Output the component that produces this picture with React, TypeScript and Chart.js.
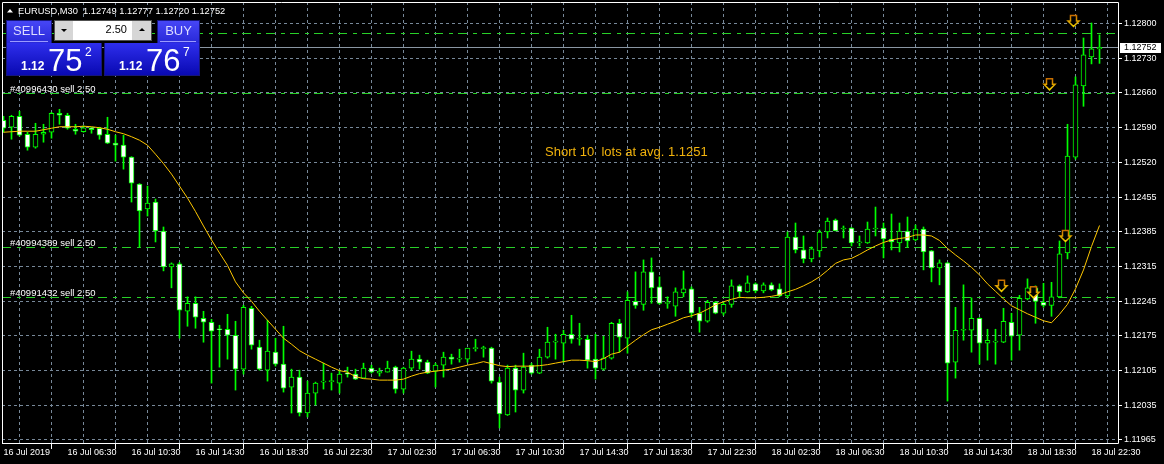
import React, { useEffect, useRef } from "react";
import { Chart, registerables } from "chart.js";

Chart.register(...registerables);

const headerText = "EURUSD,M30  1.12749 1.12777 1.12720 1.12752";

const xTickLabels = [
  "16 Jul 2019", "16 Jul 06:30", "16 Jul 10:30", "16 Jul 14:30", "16 Jul 18:30", "16 Jul 22:30",
  "17 Jul 02:30", "17 Jul 06:30", "17 Jul 10:30", "17 Jul 14:30", "17 Jul 18:30", "17 Jul 22:30",
  "18 Jul 02:30", "18 Jul 06:30", "18 Jul 10:30", "18 Jul 14:30", "18 Jul 18:30", "18 Jul 22:30",
];

const yTickLabels = [
  "1.12800", "1.12730", "1.12660", "1.12590", "1.12520", "1.12455", "1.12385",
  "1.12315", "1.12245", "1.12175", "1.12105", "1.12035", "1.11965",
];

const opens = [
  1.12606, 1.12592, 1.12614, 1.12578, 1.12552, 1.12578, 1.12582, 1.12620, 1.12616, 1.12588,
  1.12583, 1.12591, 1.12590, 1.12578, 1.12560, 1.12556, 1.12532, 1.12478, 1.12428, 1.12442,
  1.12384, 1.12312, 1.12318, 1.12223, 1.12239, 1.12209, 1.12201, 1.12187, 1.12187, 1.12175,
  1.12107, 1.12229, 1.12151, 1.12105, 1.12141, 1.12117, 1.12071, 1.12091, 1.12019, 1.12059,
  1.12081, 1.12082, 1.12079, 1.12098, 1.12097, 1.12089, 1.12109, 1.12099, 1.12101, 1.12111,
  1.12067, 1.12109, 1.12127, 1.12121, 1.12103, 1.12115, 1.12131, 1.12127, 1.12127, 1.12148,
  1.12148, 1.12149, 1.12081, 1.12015, 1.12109, 1.12065, 1.12115, 1.12099, 1.12131, 1.12161,
  1.12159, 1.12177, 1.12167, 1.12167, 1.12127, 1.12107, 1.12129, 1.12199, 1.12169, 1.12243,
  1.12237, 1.12302, 1.12272, 1.12239, 1.12233, 1.12260, 1.12268, 1.12219, 1.12203, 1.12241,
  1.12219, 1.12237, 1.12274, 1.12262, 1.12278, 1.12264, 1.12276, 1.12268, 1.12254, 1.12372,
  1.12346, 1.12328, 1.12344, 1.12382, 1.12406, 1.12388, 1.12390, 1.12360, 1.12360, 1.12388,
  1.12390, 1.12368, 1.12360, 1.12384, 1.12366, 1.12388, 1.12344, 1.12310, 1.12320, 1.12121,
  1.12185, 1.12185, 1.12209, 1.12159, 1.12161, 1.12161, 1.12201, 1.12175, 1.12248, 1.12270,
  1.12241, 1.12235, 1.12252, 1.12340, 1.12532, 1.12675, 1.12733, 1.12749,
];

const highs = [
  1.12614, 1.12616, 1.12624, 1.12582, 1.12600, 1.12598, 1.12622, 1.12628, 1.12620, 1.12598,
  1.12595, 1.12592, 1.12592, 1.12612, 1.12576, 1.12576, 1.12533, 1.12479, 1.12474, 1.12448,
  1.12392, 1.12320, 1.12321, 1.12252, 1.12252, 1.12223, 1.12207, 1.12195, 1.12217, 1.12203,
  1.12235, 1.12233, 1.12165, 1.12205, 1.12169, 1.12193, 1.12107, 1.12105, 1.12083, 1.12081,
  1.12119, 1.12099, 1.12105, 1.12111, 1.12107, 1.12119, 1.12115, 1.12109, 1.12123, 1.12113,
  1.12111, 1.12143, 1.12135, 1.12125, 1.12119, 1.12141, 1.12137, 1.12147, 1.12149, 1.12167,
  1.12153, 1.12151, 1.12091, 1.12115, 1.12115, 1.12139, 1.12119, 1.12147, 1.12191, 1.12177,
  1.12185, 1.12215, 1.12199, 1.12175, 1.12177, 1.12173, 1.12201, 1.12207, 1.12262, 1.12302,
  1.12326, 1.12330, 1.12292, 1.12252, 1.12270, 1.12304, 1.12272, 1.12231, 1.12245, 1.12243,
  1.12241, 1.12286, 1.12276, 1.12294, 1.12280, 1.12280, 1.12280, 1.12278, 1.12382, 1.12400,
  1.12374, 1.12352, 1.12386, 1.12410, 1.12408, 1.12394, 1.12391, 1.12374, 1.12402, 1.12432,
  1.12400, 1.12418, 1.12400, 1.12412, 1.12396, 1.12392, 1.12345, 1.12326, 1.12321, 1.12231,
  1.12276, 1.12250, 1.12210, 1.12187, 1.12187, 1.12229, 1.12219, 1.12255, 1.12288, 1.12274,
  1.12279, 1.12281, 1.12364, 1.12598, 1.12693, 1.12771, 1.12801, 1.12777,
];

const lows = [
  1.12582, 1.12568, 1.12574, 1.12546, 1.12550, 1.12562, 1.12570, 1.12598, 1.12588, 1.12578,
  1.12582, 1.12580, 1.12568, 1.12559, 1.12524, 1.12508, 1.12442, 1.12352, 1.12414, 1.12362,
  1.12304, 1.12270, 1.12169, 1.12193, 1.12189, 1.12161, 1.12079, 1.12111, 1.12127, 1.12065,
  1.12097, 1.12147, 1.12105, 1.12083, 1.12113, 1.12061, 1.12019, 1.12013, 1.12011, 1.12035,
  1.12067, 1.12065, 1.12059, 1.12091, 1.12086, 1.12089, 1.12099, 1.12093, 1.12101, 1.12059,
  1.12059, 1.12105, 1.12107, 1.12098, 1.12071, 1.12091, 1.12117, 1.12121, 1.12121, 1.12143,
  1.12131, 1.12079, 1.11989, 1.12014, 1.12021, 1.12059, 1.12097, 1.12098, 1.12129, 1.12127,
  1.12121, 1.12159, 1.12155, 1.12109, 1.12087, 1.12105, 1.12127, 1.12141, 1.12139, 1.12229,
  1.12225, 1.12239, 1.12237, 1.12229, 1.12213, 1.12252, 1.12211, 1.12181, 1.12201, 1.12218,
  1.12215, 1.12231, 1.12250, 1.12261, 1.12260, 1.12260, 1.12264, 1.12252, 1.12252, 1.12340,
  1.12320, 1.12322, 1.12332, 1.12370, 1.12384, 1.12370, 1.12354, 1.12354, 1.12359, 1.12374,
  1.12330, 1.12346, 1.12342, 1.12352, 1.12364, 1.12306, 1.12282, 1.12276, 1.12043, 1.12089,
  1.12165, 1.12141, 1.12117, 1.12125, 1.12117, 1.12160, 1.12125, 1.12145, 1.12246, 1.12199,
  1.12231, 1.12213, 1.12250, 1.12328, 1.12528, 1.12634, 1.12719, 1.12720,
];

const closes = [
  1.12590, 1.12614, 1.12576, 1.12552, 1.12578, 1.12582, 1.12620, 1.12616, 1.12590, 1.12584,
  1.12591, 1.12587, 1.12576, 1.12560, 1.12556, 1.12532, 1.12480, 1.12424, 1.12440, 1.12384,
  1.12312, 1.12318, 1.12225, 1.12239, 1.12211, 1.12201, 1.12183, 1.12186, 1.12175, 1.12107,
  1.12231, 1.12155, 1.12107, 1.12143, 1.12117, 1.12069, 1.12091, 1.12019, 1.12059, 1.12079,
  1.12083, 1.12084, 1.12097, 1.12097, 1.12087, 1.12109, 1.12101, 1.12103, 1.12109, 1.12067,
  1.12109, 1.12127, 1.12121, 1.12099, 1.12115, 1.12131, 1.12127, 1.12128, 1.12149, 1.12149,
  1.12150, 1.12083, 1.12017, 1.12109, 1.12065, 1.12111, 1.12099, 1.12131, 1.12161, 1.12162,
  1.12177, 1.12167, 1.12168, 1.12125, 1.12109, 1.12129, 1.12199, 1.12171, 1.12245, 1.12235,
  1.12302, 1.12270, 1.12239, 1.12240, 1.12262, 1.12268, 1.12219, 1.12203, 1.12241, 1.12219,
  1.12237, 1.12274, 1.12262, 1.12280, 1.12264, 1.12276, 1.12266, 1.12254, 1.12372, 1.12346,
  1.12328, 1.12348, 1.12382, 1.12404, 1.12384, 1.12389, 1.12360, 1.12361, 1.12388, 1.12389,
  1.12368, 1.12362, 1.12384, 1.12364, 1.12388, 1.12342, 1.12310, 1.12320, 1.12119, 1.12185,
  1.12186, 1.12209, 1.12159, 1.12165, 1.12162, 1.12203, 1.12173, 1.12249, 1.12270, 1.12243,
  1.12235, 1.12252, 1.12338, 1.12534, 1.12677, 1.12737, 1.12749, 1.12752,
];

const maValues = [
  1.12582, 1.12583, 1.12584, 1.12584, 1.12584, 1.12587, 1.12590, 1.12593, 1.12593, 1.12593,
  1.12594, 1.12593, 1.12591, 1.12588, 1.12583, 1.12579, 1.12573, 1.12566, 1.12556, 1.12538,
  1.12519, 1.12498, 1.12474, 1.12450, 1.12423, 1.12394, 1.12366, 1.12340, 1.12315, 1.12282,
  1.12260, 1.12243, 1.12223, 1.12205, 1.12187, 1.12169, 1.12157, 1.12144, 1.12135, 1.12127,
  1.12119, 1.12111, 1.12104, 1.12101, 1.12092, 1.12088, 1.12087, 1.12085, 1.12085, 1.12085,
  1.12087, 1.12093, 1.12098, 1.12101, 1.12103, 1.12105, 1.12107, 1.12111, 1.12115, 1.12118,
  1.12122, 1.12118, 1.12114, 1.12112, 1.12113, 1.12113, 1.12113, 1.12114, 1.12116, 1.12119,
  1.12122, 1.12125, 1.12125, 1.12124, 1.12122, 1.12128, 1.12137, 1.12141, 1.12153, 1.12165,
  1.12176, 1.12186, 1.12191, 1.12197, 1.12203, 1.12210, 1.12214, 1.12219, 1.12227, 1.12236,
  1.12242, 1.12247, 1.12251, 1.12250, 1.12250, 1.12251, 1.12253, 1.12256, 1.12262, 1.12267,
  1.12274, 1.12282, 1.12292, 1.12305, 1.12319, 1.12326, 1.12329, 1.12337, 1.12346, 1.12354,
  1.12361, 1.12366, 1.12369, 1.12371, 1.12376, 1.12376, 1.12374, 1.12365, 1.12349, 1.12336,
  1.12324, 1.12311, 1.12296, 1.12278, 1.12263, 1.12248, 1.12234, 1.12226, 1.12218, 1.12211,
  1.12204, 1.12200, 1.12217, 1.12237, 1.12268, 1.12306, 1.12353, 1.12395,
];

const orderPrices = [1.12781, 1.12661, 1.12352, 1.12252];
const orderLabels = ["", "#40996430 sell 2.50", "#40994389 sell 2.50", "#40991432 sell 2.50"];
const arrowBars = [134, 131, 133, 125, 129];
const arrowPrices = [1.12794, 1.12667, 1.12363, 1.12263, 1.1225];
const noteText = "Short 10  lots at avg. 1.1251";
const noteBar = 67.7;
const notePrice = 1.12542;
const lotText = "2.50";
const sellQuote = ["1.12", "75", "2"];
const buyQuote = ["1.12", "76", "7"];

const FONT = '"Liberation Sans", Arial, sans-serif';
const GREEN = "#00FF00";
const ORDER_GREEN = "#28D028";
const ORDER_DASH = [9, 6, 4, 5];

function drawArrow(ctx: CanvasRenderingContext2D, cx: number, tip: number) {
  ctx.save();
  ctx.beginPath();
  ctx.moveTo(cx - 3, tip - 11);
  ctx.lineTo(cx + 3, tip - 11);
  ctx.lineTo(cx + 3, tip - 5.5);
  ctx.lineTo(cx + 5.5, tip - 5.5);
  ctx.lineTo(cx, tip);
  ctx.lineTo(cx - 5.5, tip - 5.5);
  ctx.lineTo(cx - 3, tip - 5.5);
  ctx.closePath();
  const g = ctx.createLinearGradient(0, tip - 11, 0, tip);
  g.addColorStop(0, "#C86E00");
  g.addColorStop(1, "#F2D000");
  ctx.fillStyle = "#000";
  ctx.fill();
  ctx.lineWidth = 1.5;
  ctx.strokeStyle = g;
  ctx.stroke();
  ctx.restore();
}

const mtPlugin = {
  id: "mtPlugin",
  beforeDraw(chart: any) {
    const { ctx, width, height } = chart;
    ctx.save();
    ctx.fillStyle = "#000";
    ctx.fillRect(0, 0, width, height);
    ctx.restore();
  },
  beforeDatasetsDraw(chart: any) {
    const { ctx, chartArea: a, scales } = chart;
    const y = scales.y;
    ctx.save();
    ctx.beginPath();
    ctx.rect(a.left, a.top, a.right - a.left, a.bottom - a.top);
    ctx.clip();
    const bidRow = Math.round(y.getPixelForValue(closes[closes.length - 1]));
    ctx.fillStyle = "#8A96A3";
    ctx.fillRect(a.left, bidRow, a.right - a.left, 1);
    ctx.fillStyle = ORDER_GREEN;
    orderPrices.forEach((p) => {
      const row = Math.round(y.getPixelForValue(p));
      let xPos = a.left;
      let k = 0;
      while (xPos < a.right) {
        const len = ORDER_DASH[k % ORDER_DASH.length];
        if (k % 2 === 0) ctx.fillRect(xPos, row, Math.min(len, a.right - xPos), 1);
        xPos += len;
        k++;
      }
    });
    ctx.restore();
  },
  afterDatasetsDraw(chart: any) {
    const { ctx, chartArea: a, scales } = chart;
    const x = scales.x;
    const y = scales.y;
    ctx.save();
    ctx.beginPath();
    ctx.rect(a.left, a.top, a.right - a.left, a.bottom - a.top);
    ctx.clip();
    arrowBars.forEach((b, i) => {
      drawArrow(ctx, x.getPixelForValue(b) - 2, y.getPixelForValue(arrowPrices[i]));
    });
    ctx.fillStyle = "#F2B30C";
    ctx.font = `13px ${FONT}`;
    ctx.textBaseline = "middle";
    ctx.textAlign = "left";
    ctx.fillText(noteText, x.getPixelForValue(noteBar), y.getPixelForValue(notePrice));
    ctx.fillStyle = "#FFFFFF";
    ctx.font = `9.5px ${FONT}`;
    ctx.textBaseline = "alphabetic";
    orderPrices.forEach((p, i) => {
      if (!orderLabels[i]) return;
      const row = Math.round(y.getPixelForValue(p));
      ctx.fillText(orderLabels[i], a.left + 8, row - 1);
    });
    ctx.restore();

    ctx.save();
    ctx.strokeStyle = "#FFFFFF";
    ctx.lineWidth = 1;
    ctx.setLineDash([]);
    ctx.beginPath();
    ctx.moveTo(a.left + 0.5, a.bottom);
    ctx.lineTo(a.left + 0.5, a.top + 0.5);
    ctx.lineTo(a.right - 0.5, a.top + 0.5);
    ctx.lineTo(a.right - 0.5, a.bottom - 0.5);
    ctx.lineTo(a.left, a.bottom - 0.5);
    ctx.stroke();

    ctx.fillStyle = "#FFFFFF";
    ctx.beginPath();
    ctx.moveTo(7, 12.5);
    ctx.lineTo(13, 12.5);
    ctx.lineTo(10, 9);
    ctx.closePath();
    ctx.fill();
    ctx.font = `9.3px ${FONT}`;
    ctx.textBaseline = "alphabetic";
    ctx.textAlign = "left";
    ctx.fillText(headerText, 18, 14);
    ctx.restore();
  },
  afterDraw(chart: any) {
    const { ctx, chartArea: a, scales } = chart;
    const y = scales.y;
    const bid = closes[closes.length - 1];
    const row = Math.round(y.getPixelForValue(bid));
    ctx.save();
    ctx.fillStyle = "#FFFFFF";
    ctx.fillRect(a.right + 1, row - 4, 41, 10);
    ctx.fillStyle = "#000000";
    ctx.font = `9px ${FONT}`;
    ctx.textBaseline = "middle";
    ctx.textAlign = "left";
    ctx.fillText(bid.toFixed(5), a.right + 5, row + 1);
    ctx.restore();
  },
};

function Panel() {
  const btnBg = "linear-gradient(#4646f6, #2727d6)";
  const boxBg = "linear-gradient(#2e2eec, #0909b2)";
  const abs = (l: number, t: number, w: number, h: number, extra: any = {}) => ({
    position: "absolute" as const,
    left: l,
    top: t,
    width: w,
    height: h,
    boxSizing: "border-box" as const,
    ...extra,
  });
  const txt = (l: number, t: number, size: number, content: string, extra: any = {}) => (
    <div
      style={{
        position: "absolute",
        left: l,
        top: t,
        fontFamily: FONT,
        fontSize: size,
        lineHeight: `${size}px`,
        color: "#FFFFFF",
        whiteSpace: "nowrap",
        ...extra,
      }}
    >
      {content}
    </div>
  );
  return (
    <>
      <div style={abs(6, 20, 46, 24, { background: btnBg, border: "1px solid #16167c", borderBottom: "none" })} />
      <div style={abs(6, 43, 96, 33, { background: boxBg, border: "1px solid #16167c", borderTop: "none" })} />
      <div style={abs(157, 20, 43, 24, { background: btnBg, border: "1px solid #16167c", borderBottom: "none" })} />
      <div style={abs(104, 43, 96, 33, { background: boxBg, border: "1px solid #16167c", borderTop: "none" })} />
      <div style={abs(10, 41, 38, 1, { background: "#9a9aff" })} />
      <div style={abs(160, 41, 36, 1, { background: "#9a9aff" })} />
      {txt(6, 24, 13, "SELL", { width: 46, textAlign: "center", color: "#DCDCFF" })}
      {txt(157, 24, 13, "BUY", { width: 43, textAlign: "center", color: "#DCDCFF" })}
      <div style={abs(54, 20, 98, 21, { background: "#FFFFFF", border: "1px solid #505050" })} />
      <div style={abs(55, 21, 18, 19, { background: "#D6D6D6" })} />
      <div style={abs(132, 21, 19, 19, { background: "#D6D6D6" })} />
      <div style={{ position: "absolute", left: 61, top: 29, width: 0, height: 0, borderLeft: "3px solid transparent", borderRight: "3px solid transparent", borderTop: "3px solid #000" }} />
      <div style={{ position: "absolute", left: 139, top: 28, width: 0, height: 0, borderLeft: "3px solid transparent", borderRight: "3px solid transparent", borderBottom: "3px solid #000" }} />
      {txt(73, 24, 11, lotText, { width: 54, textAlign: "right", color: "#000" })}
      {txt(21, 60, 12, sellQuote[0], { fontWeight: "bold" })}
      {txt(48, 44.5, 31, sellQuote[1])}
      {txt(85, 45.5, 12, sellQuote[2])}
      {txt(119, 60, 12, buyQuote[0], { fontWeight: "bold" })}
      {txt(146, 44.5, 31, buyQuote[1])}
      {txt(183, 45.5, 12, buyQuote[2])}
    </>
  );
}

export default function App() {
  const canvasRef = useRef<HTMLCanvasElement | null>(null);

  useEffect(() => {
    document.body.style.margin = "0";
    document.body.style.background = "#000";
    const canvas = canvasRef.current;
    if (!canvas) return;

    const n = opens.length;
    const idx = opens.map((_, i) => i);
    const yTop = parseFloat(yTickLabels[0]);
    const yBot = parseFloat(yTickLabels[yTickLabels.length - 1]);
    const yStep = (yTop - yBot) / (yTickLabels.length - 1);
    const labelEvery = 8;
    const gridEvery = 4;
    const lastLabelBar = (xTickLabels.length - 1) * labelEvery;
    const gridBars: number[] = [];
    for (let v = 0; v <= lastLabelBar; v += gridEvery) gridBars.push(v);

    const axisFont = { family: FONT, size: 9 };

    const chart = new Chart(canvas, {
      type: "bar",
      data: {
        datasets: [
          {
            type: "line",
            label: "MA",
            data: maValues.map((v, i) => ({ x: i, y: v })),
            borderColor: "#FFC800",
            borderWidth: 1,
            pointRadius: 0,
            tension: 0,
            order: 1,
          } as any,
          {
            type: "bar",
            label: "bodies",
            data: idx.map((i) => ({ x: i, y: [opens[i], closes[i]] })),
            backgroundColor: (c: any) => {
              const i = c.dataIndex;
              return closes[i] > opens[i] ? "#000000" : "#FFFFFF";
            },
            borderColor: GREEN,
            borderWidth: 1,
            borderSkipped: false,
            barThickness: 5,
            minBarLength: 1,
            grouped: false,
            order: 2,
          } as any,
          {
            type: "bar",
            label: "wicks",
            data: idx.map((i) => ({ x: i, y: [lows[i], highs[i]] })),
            backgroundColor: GREEN,
            borderWidth: 0,
            barThickness: 1,
            grouped: false,
            order: 3,
          } as any,
        ],
      },
      options: {
        responsive: false,
        animation: false,
        devicePixelRatio: 1,
        events: [],
        layout: { padding: { left: 2, top: 2, right: 0, bottom: 0 } },
        plugins: { legend: { display: false }, tooltip: { enabled: false } },
        scales: {
          x: {
            type: "linear",
            min: -0.1875,
            max: n + 1.4375,
            offset: false,
            afterBuildTicks: (s: any) => {
              s.ticks = gridBars.map((v) => ({ value: v }));
            },
            afterFit: (s: any) => {
              s.height = 20;
              s.paddingLeft = 0;
              s.paddingRight = 0;
            },
            grid: {
              color: "#778899",
              lineWidth: 1,
              drawTicks: true,
              tickLength: 5,
              tickWidth: 1,
              tickBorderDash: [],
              tickColor: (c: any) => (c.tick && c.tick.value % labelEvery === 0 ? "#FFFFFF" : "rgba(0,0,0,0)"),
            },
            border: { display: false, dash: [3, 3] },
            ticks: {
              color: "#FFFFFF",
              font: axisFont,
              autoSkip: false,
              maxRotation: 0,
              minRotation: 0,
              align: "start",
              padding: -2,
              callback: (v: any) => (v % labelEvery === 0 ? xTickLabels[v / labelEvery] : ""),
            },
          },
          y: {
            type: "linear",
            position: "right",
            min: 1.119569,
            max: 1.1284311,
            afterBuildTicks: (s: any) => {
              s.ticks = yTickLabels.map((_, i) => ({ value: yTop - i * yStep }));
            },
            afterFit: (s: any) => {
              s.width = 45;
              s.paddingTop = 0;
              s.paddingBottom = 0;
            },
            grid: {
              color: "#778899",
              lineWidth: 1,
              drawTicks: true,
              tickLength: 3,
              tickWidth: 1,
              tickBorderDash: [],
              tickColor: "#FFFFFF",
            },
            border: { display: false, dash: [3, 3] },
            ticks: {
              color: "#FFFFFF",
              font: axisFont,
              autoSkip: false,
              padding: 2,
              callback: (_v: any, i: number) => yTickLabels[i] ?? "",
            },
          },
        },
      } as any,
      plugins: [mtPlugin],
    });

    return () => chart.destroy();
  }, []);

  return (
    <div style={{ position: "fixed", left: 0, top: 0, width: 1164, height: 464, background: "#000", overflow: "hidden" }}>
      <canvas ref={canvasRef} width={1164} height={464} style={{ display: "block", width: 1164, height: 464 }} />
      <Panel />
    </div>
  );
}
